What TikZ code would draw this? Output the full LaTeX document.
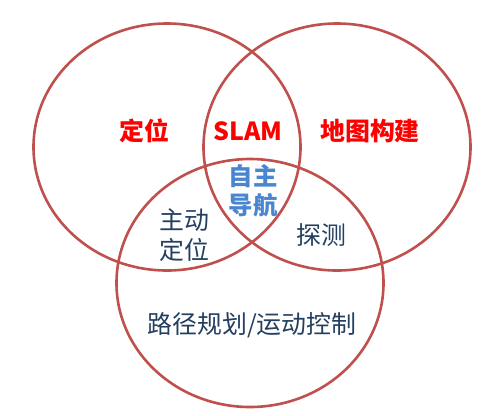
\documentclass[tikz,border=0pt]{standalone}
\usepackage{fontspec}
\newfontfamily\cjk{Noto Sans CJK SC}
\definecolor{ringred}{HTML}{C0504D}
\definecolor{hotred}{HTML}{FF0000}
\definecolor{navblue}{HTML}{4A86D0}
\definecolor{navy}{HTML}{243F60}
\tikzset{
  ring/.style={draw=ringred, line width=2.6bp},
  redlbl/.style={text=hotred, font=\cjk\bfseries\fontsize{25}{28}\selectfont, inner sep=0pt},
  bluelbl/.style={text=navblue, font=\cjk\bfseries\fontsize{24.5}{29}\selectfont, inner sep=0pt, align=center},
  navylbl/.style={text=navy, font=\cjk\fontsize{25}{30}\selectfont, inner sep=0pt, align=center}
}
\begin{document}
\begin{tikzpicture}[x=1bp,y=-1bp]
\useasboundingbox (0,0) rectangle (500,415);
\fill[white] (0,0) rectangle (500,415);
\draw[ring] (167,147) ellipse [x radius=133.5bp, y radius=123.5bp];
\draw[ring] (337,147) ellipse [x radius=133.5bp, y radius=123.5bp];
\draw[ring] (250,283) ellipse [x radius=133.5bp, y radius=124bp];
\node[redlbl] (loc) at (144,131) {定位};
\node[redlbl] (slam) at (248,131) {SLAM};
\node[redlbl] (map) at (370,131) {地图构建};
\node[bluelbl] (nav) at (253,191) {自主\\导航};
\node[navylbl] (act) at (184,235) {主动\\定位};
\node[navylbl] (exp) at (321,235) {探测};
\node[navylbl] (path) at (252,325) {路径规划/运动控制};
\end{tikzpicture}
\end{document}
